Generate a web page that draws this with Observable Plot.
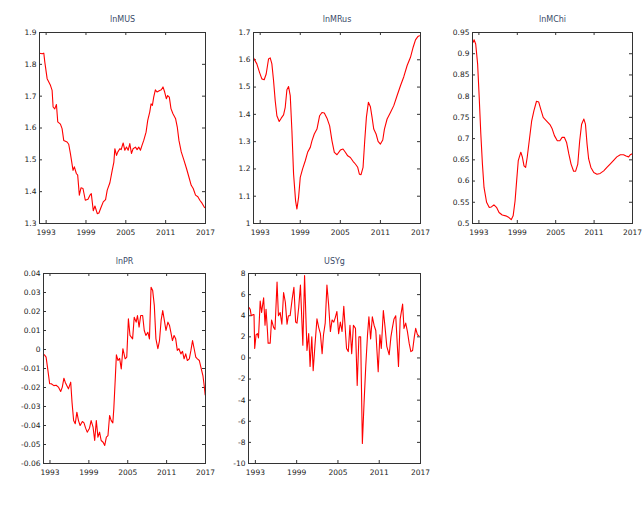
<!DOCTYPE html>
<html><head><meta charset="utf-8">
<script src="https://cdn.jsdelivr.net/npm/d3@7"></script>
<script src="https://cdn.jsdelivr.net/npm/@observablehq/plot@0.6"></script>
<style>
body{margin:0;background:#fff}
#chart{position:relative;width:644px;height:507px;background:#fff;overflow:hidden}
#chart svg{position:absolute}
</style></head><body><div id="chart"></div>
<script>
const xTicks = [1993, 1999, 2005, 2011, 2017];

const lnMUS_t = [1992.0,1992.4,1992.65,1992.8,1993.15,1993.65,1993.9,1994.05,1994.3,1994.55,
1994.75,1995.15,1995.4,1995.65,1996.15,1996.4,1996.65,1997.05,1997.25,1997.55,
1997.75,1998.0,1998.25,1998.55,1998.9,1999.3,1999.6,1999.8,2000.1,2000.35,
2000.7,2000.95,2001.2,2001.6,2001.95,2002.2,2002.6,2002.95,2003.2,2003.35,
2003.6,2003.8,2004.1,2004.3,2004.6,2004.85,2005.1,2005.35,2005.6,2005.85,
2006.1,2006.45,2006.7,2006.95,2007.2,2007.45,2007.7,2008.05,2008.3,2008.6,
2008.8,2009.0,2009.2,2009.45,2009.7,2010.1,2010.35,2010.6,2010.85,2011.1,
2011.3,2011.55,2011.8,2012.1,2012.5,2012.75,2013.0,2013.35,2013.75,2014.15,
2014.5,2014.85,2015.15,2015.5,2015.85,2016.15,2016.5,2016.85];
const lnMUS_v = [1.835,1.833,1.835,1.807,1.755,1.734,1.718,1.666,1.66,1.674,
1.619,1.612,1.598,1.561,1.556,1.549,1.52,1.467,1.478,1.457,
1.452,1.389,1.412,1.41,1.373,1.376,1.389,1.394,1.34,1.355,
1.331,1.333,1.347,1.368,1.375,1.405,1.428,1.467,1.493,1.535,
1.514,1.525,1.535,1.532,1.553,1.53,1.54,1.53,1.551,1.52,
1.535,1.54,1.532,1.54,1.53,1.546,1.561,1.587,1.624,1.65,
1.676,1.671,1.697,1.72,1.713,1.718,1.72,1.729,1.713,1.692,
1.702,1.697,1.661,1.645,1.629,1.603,1.561,1.525,1.499,1.472,
1.446,1.42,1.41,1.389,1.384,1.373,1.363,1.35];
const lnMUS_ticks = [1.9, 1.8, 1.7, 1.6, 1.5, 1.4, 1.3];

const lnMRus_t = [1992.0,1992.5,1992.9,1993.25,1993.6,1993.9,1994.25,1994.5,1994.75,1995.0,
1995.25,1995.5,1995.85,1996.15,1996.5,1996.75,1997.0,1997.25,1997.5,1997.75,
1998.0,1998.3,1998.5,1998.75,1999.0,1999.35,1999.75,2000.1,2000.5,2000.75,
2001.1,2001.5,2001.9,2002.25,2002.6,2003.0,2003.4,2003.75,2004.1,2004.5,
2005.0,2005.4,2005.75,2006.1,2006.5,2006.9,2007.25,2007.6,2007.85,2008.1,
2008.4,2008.65,2008.9,2009.2,2009.5,2009.75,2010.0,2010.35,2010.65,2011.0,
2011.35,2011.6,2012.0,2012.5,2013.0,2013.5,2014.0,2014.5,2015.0,2015.5,
2015.9,2016.25,2016.6,2016.85];
const lnMRus_v = [1.607,1.585,1.554,1.53,1.527,1.548,1.603,1.607,1.585,1.524,
1.45,1.395,1.374,1.386,1.398,1.426,1.49,1.502,1.469,1.34,
1.181,1.083,1.053,1.096,1.169,1.2,1.23,1.261,1.279,1.303,
1.328,1.346,1.395,1.407,1.405,1.386,1.358,1.303,1.261,1.252,
1.269,1.273,1.261,1.248,1.242,1.228,1.218,1.206,1.181,1.179,
1.206,1.303,1.389,1.444,1.428,1.389,1.346,1.328,1.301,1.291,
1.306,1.346,1.383,1.407,1.432,1.469,1.505,1.538,1.579,1.609,
1.646,1.673,1.685,1.688];
const lnMRus_ticks = [1.7, 1.6, 1.5, 1.4, 1.3, 1.2, 1.1, 1];

const lnMChi_t = [1992.1,1992.25,1992.5,1992.8,1993.05,1993.3,1993.55,1993.8,1994.2,1994.6,
1994.95,1995.35,1995.75,1996.15,1996.65,1997.2,1997.7,1998.05,1998.35,1998.65,
1998.9,1999.15,1999.55,1999.8,2000.05,2000.3,2000.55,2000.9,2001.25,2001.6,
2002.0,2002.35,2002.65,2003.05,2003.55,2004.1,2004.45,2004.8,2005.25,2005.65,
2006.0,2006.35,2006.7,2007.05,2007.4,2007.8,2008.1,2008.45,2008.75,2009.05,
2009.4,2009.65,2009.9,2010.15,2010.5,2010.95,2011.45,2011.95,2012.5,2013.0,
2013.5,2014.05,2014.55,2015.1,2015.6,2016.0,2016.4,2016.65,2016.9];
const lnMChi_v = [0.927,0.933,0.923,0.876,0.797,0.711,0.64,0.585,0.55,0.538,
0.539,0.544,0.538,0.526,0.52,0.518,0.514,0.509,0.518,0.553,
0.601,0.648,0.668,0.656,0.636,0.632,0.656,0.699,0.742,0.766,
0.788,0.786,0.77,0.75,0.742,0.733,0.723,0.707,0.695,0.695,
0.703,0.703,0.691,0.664,0.64,0.623,0.623,0.64,0.695,0.734,
0.746,0.734,0.687,0.652,0.632,0.62,0.616,0.618,0.624,0.632,
0.64,0.649,0.657,0.662,0.662,0.659,0.657,0.662,0.664];
const lnMChi_ticks = [0.95, 0.9, 0.85, 0.8, 0.75, 0.7, 0.65, 0.6, 0.55, 0.5];

const lnPR_t = [1992.15,1992.4,1992.65,1992.95,1993.2,1993.6,1993.95,1994.3,1994.65,1994.9,
1995.15,1995.35,1995.65,1995.85,1996.2,1996.4,1996.65,1996.9,1997.15,1997.4,
1997.65,1998.0,1998.25,1998.5,1998.75,1999.1,1999.35,1999.65,1999.9,2000.15,
2000.4,2000.65,2000.9,2001.2,2001.45,2001.7,2001.95,2002.2,2002.45,2002.7,
2002.85,2003.1,2003.25,2003.5,2003.75,2004.0,2004.25,2004.6,2004.85,2005.1,
2005.35,2005.75,2006.0,2006.3,2006.5,2006.75,2007.0,2007.3,2007.55,2007.8,
2008.1,2008.35,2008.6,2008.85,2009.1,2009.35,2009.65,2009.9,2010.15,2010.4,
2010.65,2010.9,2011.2,2011.45,2011.65,2011.9,2012.15,2012.4,2012.65,2012.9,
2013.2,2013.45,2013.7,2013.95,2014.2,2014.5,2014.75,2015.0,2015.25,2015.5,
2015.75,2016.05,2016.35,2016.6,2016.8,2016.95];
const lnPR_v = [-0.0028,-0.004,-0.0102,-0.018,-0.018,-0.019,-0.0188,-0.0198,-0.0221,-0.0198,
-0.0151,-0.0172,-0.0193,-0.0207,-0.0172,-0.0277,-0.0374,-0.0391,-0.033,-0.0374,
-0.04,-0.0379,-0.0386,-0.0414,-0.0435,-0.0414,-0.0374,-0.0409,-0.0479,-0.0374,
-0.0461,-0.0435,-0.0479,-0.0488,-0.0505,-0.0461,-0.0453,-0.0347,-0.0374,-0.0386,
-0.0312,-0.0137,-0.0028,-0.0058,-0.0047,-0.0102,0.0004,-0.0049,-0.004,0.0161,
0.0074,0.0056,0.017,0.0144,0.0179,0.0118,0.0179,0.0179,0.01,0.0074,
0.0091,0.0056,0.0328,0.031,0.0232,0.0056,0.0004,0.0047,0.0153,0.0205,
0.0153,0.01,0.0144,0.0126,0.0091,0.0047,0.0074,0.0056,-0.0005,0.0004,
-0.0023,-0.001,-0.0049,-0.0023,-0.0058,-0.0049,-0.0005,0.0047,0.0004,-0.004,
-0.0049,-0.0058,-0.0102,-0.0137,-0.019,-0.0239];
const lnPR_ticks = [0.04, 0.03, 0.02, 0.01, 0, -0.01, -0.02, -0.03, -0.04, -0.05, -0.06];

const USYg_t = [1992.05,1992.25,1992.4,1992.65,1992.8,1992.9,1993.1,1993.3,1993.45,1993.7,
1993.9,1994.2,1994.4,1994.55,1994.75,1994.85,1995.15,1995.35,1995.65,1995.85,
1996.15,1996.35,1996.6,1996.85,1997.1,1997.35,1997.6,1997.8,1998.05,1998.35,
1998.6,1998.85,1999.05,1999.3,1999.55,1999.9,2000.15,2000.35,2000.5,2000.75,
2000.95,2001.2,2001.4,2001.65,2001.95,2002.2,2002.45,2002.7,2002.9,2003.15,
2003.4,2003.65,2003.9,2004.15,2004.4,2004.6,2004.85,2005.1,2005.35,2005.6,
2005.85,2006.25,2006.5,2006.75,2007.0,2007.25,2007.55,2007.8,2008.05,2008.3,
2008.55,2008.8,2009.05,2009.3,2009.5,2009.75,2010.0,2010.25,2010.5,2010.85,
2011.1,2011.3,2011.6,2011.85,2012.1,2012.45,2012.7,2012.9,2013.15,2013.4,
2013.8,2014.05,2014.4,2014.6,2014.85,2015.1,2015.35,2015.6,2015.85,2016.1,
2016.3,2016.55,2016.75];
const USYg_v = [4.8,4.6,4.0,4.1,4.1,0.9,2.2,2.3,1.9,5.4,
4.3,5.7,3.1,4.6,2.6,1.4,1.4,3.6,2.9,2.7,
7.2,4.0,4.3,3.2,6.2,5.3,3.2,4.0,4.0,5.6,
6.7,3.4,3.3,4.8,6.9,1.2,7.8,3.7,0.7,2.3,
-0.8,2.0,-1.2,1.1,3.7,2.9,2.3,0.4,2.2,3.3,
6.9,5.0,2.5,3.6,3.4,3.8,4.4,2.3,3.4,2.5,
4.9,0.9,0.6,3.1,0.4,3.1,2.8,-2.6,2.0,2.0,
-8.1,-4.2,-0.7,2.2,3.9,1.8,3.9,3.1,2.6,-1.3,
2.2,0.9,4.5,2.9,1.1,0.3,2.0,2.8,3.7,4.0,
-0.8,3.7,5.1,2.8,3.3,2.5,1.4,0.6,0.7,2.0,
2.8,2.2,2.1];
const USYg_ticks = [8, 6, 4, 2, 0, -2, -4, -6, -8, -10];

const chart = document.getElementById("chart");

function panel(title, t, v, yTicks, box) {
  const {ox, oy, w, h, l, r, top, b, ty} = box;
  const data = t.map((x, i) => ({x, y: v[i]}));
  const fw = r - l, fh = b - top;
  const ink = "#333";
  const svg = Plot.plot({
    width: w, height: h,
    marginLeft: l - ox, marginRight: ox + w - r,
    marginTop: top - oy, marginBottom: oy + h - b,
    x: {domain: [1992, 2017], label: null},
    y: {domain: [d3.min(yTicks), d3.max(yTicks)], label: null},
    style: {fontFamily: "'DejaVu Sans', Verdana, sans-serif", fontSize: "7.5px", color: "#222", background: "transparent", overflow: "visible"},
    marks: [
      Plot.tickX(xTicks, {x: d => d, insetTop: fh - 3, stroke: ink}),
      Plot.tickX(xTicks, {x: d => d, insetBottom: fh - 3, stroke: ink}),
      Plot.tickY(yTicks, {y: d => d, insetRight: fw - 3, stroke: ink}),
      Plot.tickY(yTicks, {y: d => d, insetLeft: fw - 3, stroke: ink}),
      Plot.axisX({ticks: xTicks, tickSize: 0, tickPadding: 6, label: null, tickFormat: d => String(d)}),
      Plot.axisY({ticks: yTicks, tickSize: 0, tickPadding: 3, label: null, tickFormat: d => String(d)}),
      Plot.line(data, {x: "x", y: "y", stroke: "#ff0000", strokeWidth: 1.1}),
      Plot.frame({stroke: ink}),
      Plot.text([title], {frameAnchor: "top", dy: ty - top, fontSize: 8, fill: "#3a4a68"})
    ]
  });
  svg.style.left = ox + "px";
  svg.style.top = oy + "px";
  chart.appendChild(svg);
}

panel("lnMUS", lnMUS_t, lnMUS_v, lnMUS_ticks, {ox: 0, oy: 0, w: 215, h: 245, l: 39, r: 205, top: 32, b: 223, ty: 16});
panel("lnMRus", lnMRus_t, lnMRus_v, lnMRus_ticks, {ox: 215, oy: 0, w: 210, h: 245, l: 253, r: 420, top: 32, b: 223, ty: 16});
panel("lnMChi", lnMChi_t, lnMChi_v, lnMChi_ticks, {ox: 430, oy: 0, w: 214, h: 245, l: 472, r: 632, top: 32, b: 223, ty: 16});
panel("lnPR", lnPR_t, lnPR_v, lnPR_ticks, {ox: 0, oy: 245, w: 215, h: 262, l: 43, r: 205, top: 273, b: 463, ty: 258});
panel("USYg", USYg_t, USYg_v, USYg_ticks, {ox: 215, oy: 245, w: 210, h: 262, l: 248, r: 420, top: 273, b: 463, ty: 258});
</script></body></html>
